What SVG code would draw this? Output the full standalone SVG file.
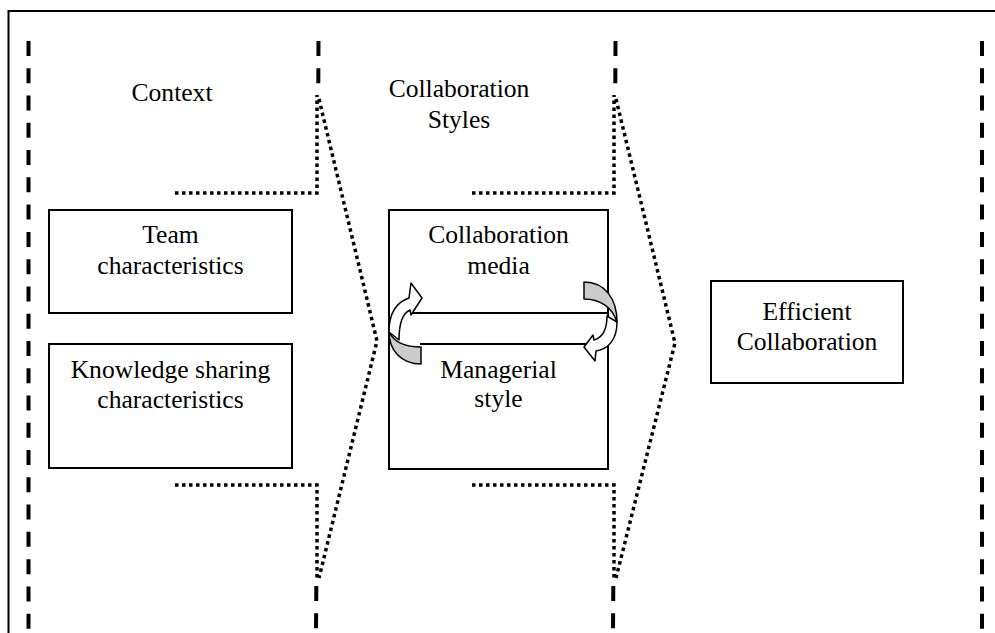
<svg xmlns="http://www.w3.org/2000/svg" width="995" height="633" viewBox="0 0 995 633">
<style>
.frame{fill:none;stroke:#000;stroke-width:2}
.dash{fill:none;stroke:#000;stroke-width:4;stroke-dasharray:15 12.27}
.dot{fill:none;stroke:#000;stroke-width:3.5;stroke-dasharray:3.5 3.5}
.box{fill:#fff;stroke:#000;stroke-width:2}
.ln{stroke:#000;stroke-width:2}
.t{font-family:"Liberation Serif","Times New Roman",serif;font-size:25.6px;fill:#000;text-anchor:middle}
.front{fill:#fff;stroke:#000;stroke-width:1.5;stroke-linejoin:round}
.back{fill:#ccc;stroke:#000;stroke-width:1.5;stroke-linejoin:round}
</style>
<rect width="995" height="633" fill="#fff"/>
<path class="frame" d="M8.5,633 V11 H996"/>
<g id="connectors">
<line class="dash" x1="28.5" y1="41" x2="28.5" y2="640"/>
<line class="dash" x1="982" y1="41" x2="982" y2="640"/>
<line class="dash" x1="318.5" y1="41" x2="318.3" y2="84"/>
<line class="dash" x1="316.3" y1="586" x2="316" y2="633"/>
<line class="dash" x1="615.5" y1="41" x2="615.3" y2="84"/>
<line class="dash" x1="613.3" y1="586" x2="613" y2="633"/>
<polyline class="dot" points="175,193 317,193 317,95"/>
<polyline class="dot" points="175,485 317,485 317,578"/>
<polyline class="dot" points="319,99 377,341 319,578"/>
<polyline class="dot" points="472,193 614,193 614,95"/>
<polyline class="dot" points="472,485 614,485 614,578"/>
<polyline class="dot" points="616,99 675,343 616,578"/>
</g>
<g id="label-context"><text class="t" x="172" y="101">Context</text></g>
<g id="label-styles"><text class="t" x="459" y="97">Collaboration</text><text class="t" x="459" y="128">Styles</text></g>
<g id="team"><rect class="box" x="49" y="210" width="243" height="103"/><text class="t" x="170.5" y="243">Team</text><text class="t" x="170.5" y="274">characteristics</text></g>
<g id="knowledge"><rect class="box" x="49" y="344" width="243" height="124"/><text class="t" x="170.5" y="378">Knowledge sharing</text><text class="t" x="170.5" y="408">characteristics</text></g>
<g id="styles-box"><rect class="box" x="389" y="210" width="219" height="259"/>
<line class="ln" x1="410" y1="313" x2="608" y2="313"/>
<line class="ln" x1="420" y1="344" x2="600" y2="344"/>
<text class="t" x="498.5" y="243">Collaboration</text><text class="t" x="498.5" y="274">media</text>
<text class="t" x="498.5" y="378">Managerial</text><text class="t" x="498.5" y="407">style</text></g>
<g id="arrow-left">
<path class="back" d="M421,347 L421,364 C401,364 389,350 389,332 C394,342 406,347 421,347 Z"/>
<path class="front" d="M389,332 C389,313 397,302 409,298 L411,283 L422,298 L411,315 L410,310 C403,313 399,322 399,340 Z"/>
</g>
<g id="arrow-right">
<path class="back" d="M584,282 L584,299 C600,299 612,307 617,322 C617,299 605,282 584,282 Z"/>
<path class="front" d="M617,322 C617,339 609,349 596,351 L595,361 L584,347 L593,335 L594,340 C601,338 607,332 607,316 Z"/>
</g>
<g id="efficient"><rect class="box" x="711" y="281" width="192" height="102"/><text class="t" x="807" y="320">Efficient</text><text class="t" x="807" y="350">Collaboration</text></g>
</svg>
